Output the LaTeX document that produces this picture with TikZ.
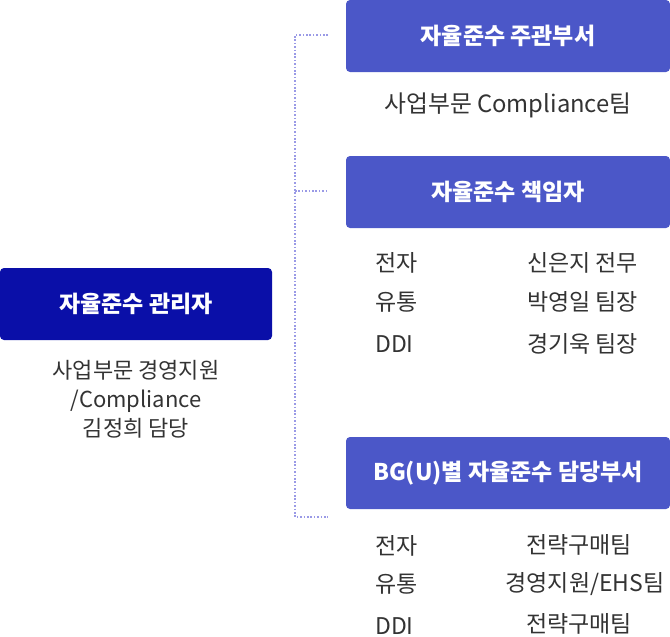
\documentclass[tikz,border=0pt]{standalone}
\usepackage{fontspec}
\setmainfont{Noto Sans CJK KR}
\definecolor{mgrblue}{HTML}{0A0FA8}
\definecolor{boxblue}{HTML}{4B57C8}
\definecolor{dotc}{HTML}{9A9AE6}
\definecolor{txt}{HTML}{333333}
\tikzset{
  x=1pt,y=-1pt,
  hbox/.style={fill=boxblue, rounded corners=4pt, draw=none},
  mbox/.style={fill=mgrblue, rounded corners=4pt, draw=none},
  htext/.style={text=white, font=\fontsize{23}{26}\selectfont\bfseries, inner sep=0pt},
  btext/.style={text=txt, font=\fontsize{23}{26}\selectfont, inner sep=0pt},
  dotline/.style={draw=dotc, line width=1.6pt, dash pattern=on 1.6pt off 1.8pt},
}
\begin{document}
\begin{tikzpicture}
\useasboundingbox (0,0) rectangle (670,637);
% boxes
\path[mbox] (0,268) rectangle (272,340);
\path[hbox] (346,0) rectangle (670,72);
\path[hbox] (346,156) rectangle (670,228);
\path[hbox] (346,437) rectangle (670,509);
\node[htext] (mgr) at (136,304) {자율준수 관리자};
\node[htext] (b1) at (508,36) {자율준수 주관부서};
\node[htext] (b2) at (508,192) {자율준수 책임자};
\node[htext] (b3) at (508,473) {BG(U)별 자율준수 담당부서};
% manager text
\node[btext, align=center, font=\fontsize{22}{29}\selectfont] (mt) at (136,399) {사업부문 경영지원\\/Compliance\\김정희 담당};
\node[btext, font=\fontsize{23.8}{26}\selectfont] (t1) at (508,105) {사업부문 Compliance팀};
% responsible rows
\node[btext, anchor=west] (r1a) at (375,263) {전자};
\node[btext, anchor=west] (r2a) at (375,302) {유통};
\node[btext, anchor=west] (r3a) at (375,344) {DDI};
\node[btext, anchor=west] (r1b) at (527,263) {신은지 전무};
\node[btext, anchor=west] (r2b) at (527,302) {박영일 팀장};
\node[btext, anchor=west] (r3b) at (527,344) {경기욱 팀장};
% dept rows
\node[btext, anchor=west] (d1a) at (375,546) {전자};
\node[btext, anchor=west] (d2a) at (375,584) {유통};
\node[btext, anchor=west] (d3a) at (375,626) {DDI};
\node[btext] (d1b) at (579,545) {전략구매팀};
\node[btext] (d2b) at (585,584) {경영지원/EHS팀};
\node[btext] (d3b) at (579,624) {전략구매팀};
% dotted connector
\coordinate (c1) at (328,35);
\coordinate (c2) at (328,191);
\coordinate (c3) at (328,517);
\coordinate (v1) at (295,35);
\coordinate (v2) at (295,191);
\coordinate (v3) at (295,517);
\draw[dotline] (c1) -- (v1) -- (v3) -- (c3);
\draw[dotline] (v2) -- (c2);
\end{tikzpicture}
\end{document}
